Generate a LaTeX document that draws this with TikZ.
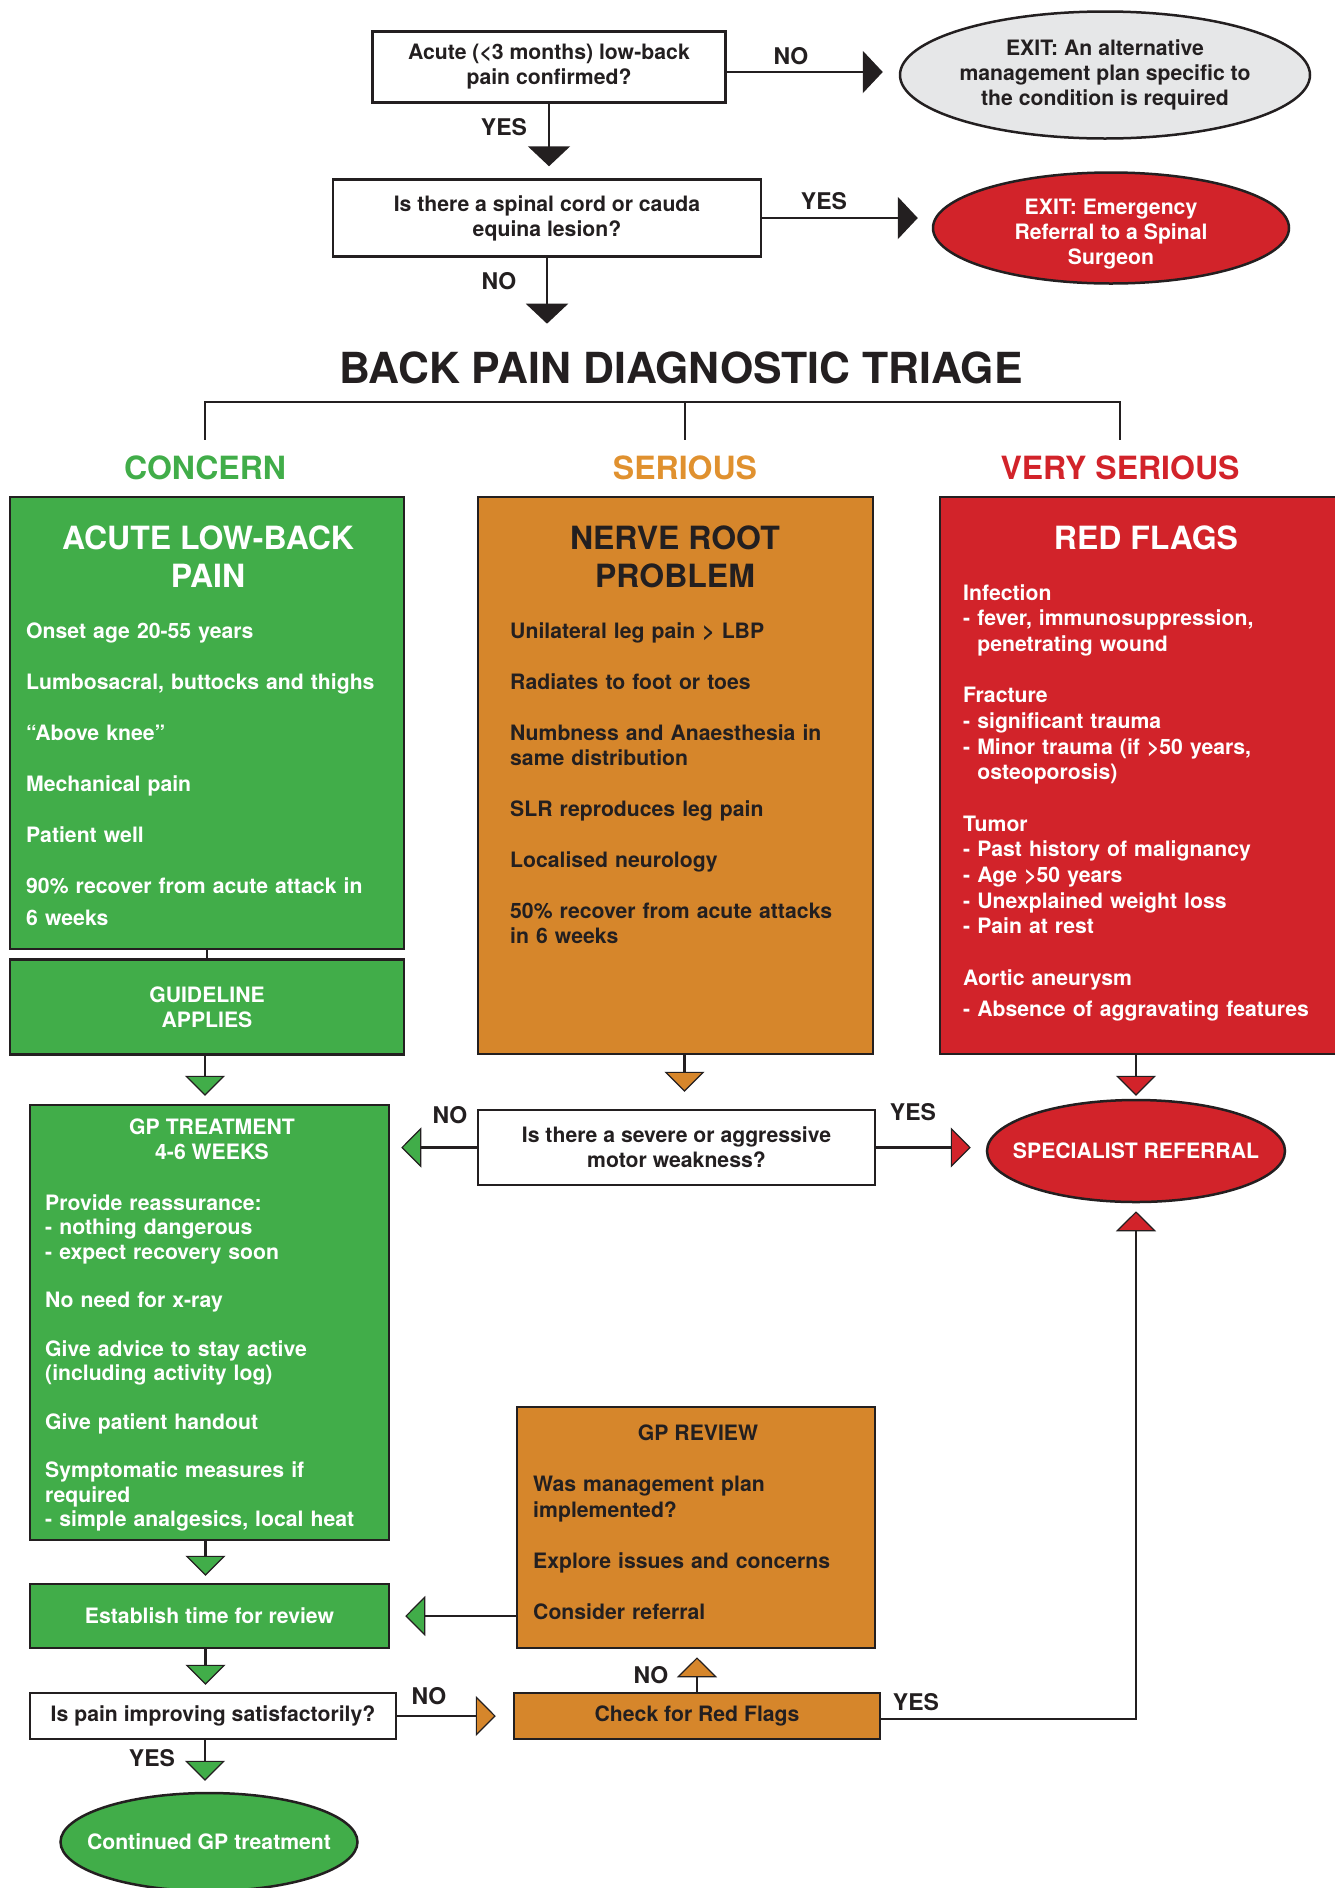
\documentclass[tikz,border=0pt]{standalone}
\usepackage{fontspec}
\setmainfont{TeX Gyre Heros}
\usetikzlibrary{arrows.meta,shapes.geometric}
\definecolor{ink}{HTML}{231F20}
\definecolor{grn}{HTML}{41AD49}
\definecolor{org}{HTML}{D6862B}
\definecolor{orgl}{HTML}{E0912F}
\definecolor{rd}{HTML}{D2232A}
\definecolor{gry}{HTML}{E6E7E8}
\newcommand{\bpfont}{\fontsize{21.2}{25}\selectfont\bfseries}
\begin{document}
\begin{tikzpicture}[x=1pt,y=-1pt,
  box/.style={draw=ink,line width=2.5pt,inner sep=0pt},
  oval/.style={ellipse,draw=ink,line width=2.5pt,inner sep=0pt},
  txt/.style={font=\bpfont,text=ink,inner sep=0pt,align=center},
  body/.style={font=\bpfont,text=#1,inner sep=0pt,align=left,anchor=base west,text width=380pt},
  body/.default=ink,
  head/.style={font=\fontsize{32}{38}\selectfont\bfseries,inner sep=0pt,align=center},
  lbl/.style={font=\fontsize{23}{26}\selectfont\bfseries,text=ink,inner sep=0pt},
  blk/.style={draw=ink,line width=2.5pt,-{Triangle[length=20pt,width=42pt]}},
  flowc/.style={draw=ink,line width=2.2pt,-{Triangle[length=20pt,width=40pt,fill=#1,line width=1.2pt]}}
]
\useasboundingbox (0,0) rectangle (1334,1888);

% entry questions
\node[box,txt,minimum width=353,minimum height=71] (q1) at (549,67) {Acute (<3 months) low-back\\pain confirmed?};
\node[oval,fill=gry,minimum width=410,minimum height=127] (exit1) at (1105,75) {};
\node[txt] (exit1t) at (exit1) {EXIT: An alternative\\management plan specific to\\the condition is required};
\node[box,txt,minimum width=428,minimum height=77] (q2) at (547,218) {Is there a spinal cord or cauda\\equina lesion?};
\node[oval,fill=rd,minimum width=356,minimum height=111] (exit2) at (1111,228) {};
\node[txt,text=white] (exit2t) at (1111,234) {EXIT: Emergency\\Referral to a Spinal\\Surgeon};
\node[font=\fontsize{42.8}{46}\selectfont\bfseries,text=ink,inner sep=0pt] (title) at (681,368) {BACK PAIN DIAGNOSTIC TRIAGE};

\draw[blk,shorten >=16pt] ([yshift=-5pt]q1.east) -- ([yshift=-5pt]q1.east -| exit1.west);
\draw[blk,shorten >=12pt] (q1.south) -- (q1.south |- q2.north);
\draw[blk,shorten >=14pt] (q2.east) -- (q2.east -| exit2.west);
\draw[blk,shorten >=28pt] (q2.south) -- (q2.south |- title.north);
\node[lbl] (no1) at (791,56) {NO};
\node[lbl] (yes1) at (504,127) {YES};
\node[lbl] (yes2) at (824,201) {YES};
\node[lbl] (no2) at (499,281) {NO};

% three columns
\node[head,text=grn] (concern) at (205,468) {CONCERN};
\node[head,text=orgl] (serious) at (685,468) {SERIOUS};
\node[head,text=rd] (vserious) at (1120,468) {VERY SERIOUS};
\draw[ink,line width=2.5pt] ([yshift=16pt]concern.north) -- ++(0,-38) -| ([yshift=16pt]vserious.north);
\draw[ink,line width=2.5pt] ([yshift=16pt]serious.north) -- ++(0,-38);

\node[box,fill=grn,minimum width=394,minimum height=452] (acute) at (207,723) {};
\node[head,text=white] (acuteh) at (208,557) {ACUTE LOW-BACK\\PAIN};
\node[body=white] (acuteb) at (26,638) {Onset age 20-55 years\\[26pt]
  Lumbosacral, buttocks and thighs\\[26pt]
  “Above knee”\\[26pt]
  Mechanical pain\\[26pt]
  Patient well\\[26pt]
  90\% recover from acute attack in\\[7pt]
  6 weeks};
\node[box,txt,text=white,fill=grn,minimum width=394,minimum height=95] (guide) at (207,1007) {GUIDELINE\\APPLIES};
\draw[ink,line width=2.5pt] (acute.south) -- (guide.north);

\node[box,fill=org,minimum width=395,minimum height=557] (nerve) at (675.5,775.5) {};
\node[head,text=ink] (nerveh) at (675,557) {NERVE ROOT\\PROBLEM};
\node[body] (nerveb) at (510,638) {Unilateral leg pain > LBP\\[26pt]
  Radiates to foot or toes\\[26pt]
  Numbness and Anaesthesia in\\same distribution\\[26pt]
  SLR reproduces leg pain\\[26pt]
  Localised neurology\\[26pt]
  50\% recover from acute attacks\\in 6 weeks};

\node[box,fill=rd,minimum width=398,minimum height=557] (redfl) at (1139,775.5) {};
\node[head,text=white] (redflh) at (1146,538) {RED FLAGS};
\node[body=white,font=\fontsize{21.2}{25.6}\selectfont\bfseries] (redflb) at (963,600) {Infection\\- fever, immunosuppression,\\\phantom{- }penetrating wound\\[26pt]
  Fracture\\- significant trauma\\- Minor trauma (if >50 years,\\\phantom{- }osteoporosis)\\[26pt]
  Tumor\\- Past history of malignancy\\- Age >50 years\\- Unexplained weight loss\\- Pain at rest\\[26pt]
  Aortic aneurysm\\[6pt]
  - Absence of aggravating features};

% treatment and review
\node[box,fill=grn,minimum width=359,minimum height=435] (gptx) at (209.5,1322.5) {};
\node[txt,text=white] (gptxh) at (212,1139) {GP TREATMENT\\4-6 WEEKS};
\node[body=white,font=\fontsize{21.2}{24.5}\selectfont\bfseries] (gptxb) at (45,1210) {Provide reassurance:\\- nothing dangerous\\- expect recovery soon\\[24pt]
  No need for x-ray\\[24pt]
  Give advice to stay active\\(including activity log)\\[24pt]
  Give patient handout\\[24pt]
  Symptomatic measures if\\required\\- simple analgesics, local heat};
\node[box,txt,fill=white,minimum width=397,minimum height=75] (severe) at (676.5,1147.5) {Is there a severe or aggressive\\motor weakness?};
\node[oval,fill=rd,minimum width=298,minimum height=102] (spec) at (1136,1151) {};
\node[txt,text=white] (spect) at (spec) {SPECIALIST REFERRAL};

\node[box,fill=org,minimum width=358,minimum height=241] (review) at (696,1527.5) {};
\node[txt] (reviewh) at (698,1433) {GP REVIEW};
\node[body,font=\fontsize{21.2}{26}\selectfont\bfseries] (reviewb) at (533,1491) {Was management plan\\implemented?\\[25pt]
  Explore issues and concerns\\[25pt]
  Consider referral};
\node[box,txt,text=white,fill=grn,minimum width=359,minimum height=64] (estab) at (209.5,1616) {Establish time for review};
\node[box,txt,fill=white,minimum width=366,minimum height=46] (pain) at (213,1716) {Is pain improving satisfactorily?};
\node[box,txt,fill=org,minimum width=366,minimum height=46] (check) at (697,1716) {Check for Red Flags};
\node[oval,fill=grn,minimum width=297,minimum height=98] (cont) at (209,1842) {};
\node[txt,text=white] (contt) at (cont) {Continued GP treatment};

\draw[flowc=grn,shorten >=8pt] ([xshift=-2pt]guide.south) -- ([xshift=-2pt]guide.south |- gptx.north);
\draw[flowc=org,shorten >=17pt] ([xshift=9pt]nerve.south) -- ([xshift=9pt]nerve.south |- severe.north);
\draw[flowc=rd,shorten >=3pt] (spec.north |- redfl.south) -- (spec.north);
\draw[flowc=grn,shorten >=11pt] (severe.west) -- (severe.west -| gptx.east);
\draw[flowc=rd,shorten >=15pt] (severe.east) -- (severe.east -| spec.west);
\draw[flowc=grn,shorten >=7pt] ([xshift=-4pt]gptx.south) -- ([xshift=-4pt]gptx.south |- estab.north);
\draw[flowc=grn,shorten >=15pt] (review.west |- estab.east) -- (estab.east);
\draw[flowc=grn,shorten >=7pt] ([xshift=-4pt]estab.south) -- ([xshift=-4pt]estab.south |- pain.north);
\draw[flowc=org,shorten >=17pt] (pain.east) -- (check.west);
\draw[flowc=org,shorten >=8pt] (check.north) -- (check.north |- review.south);
\draw[flowc=rd,shorten >=8pt] ([yshift=-3pt]check.east) -| (spec.south);
\draw[flowc=grn,shorten >=11pt] ([xshift=-4pt]cont.north |- pain.south) -- ([xshift=-4pt]cont.north);
\node[lbl] (no3) at (450,1115) {NO};
\node[lbl] (yes3) at (913,1112) {YES};
\node[lbl] (no4) at (429,1696) {NO};
\node[lbl] (no5) at (651,1675) {NO};
\node[lbl] (yes4) at (916,1702) {YES};
\node[lbl] (yes5) at (152,1758) {YES};
\end{tikzpicture}
\end{document}
